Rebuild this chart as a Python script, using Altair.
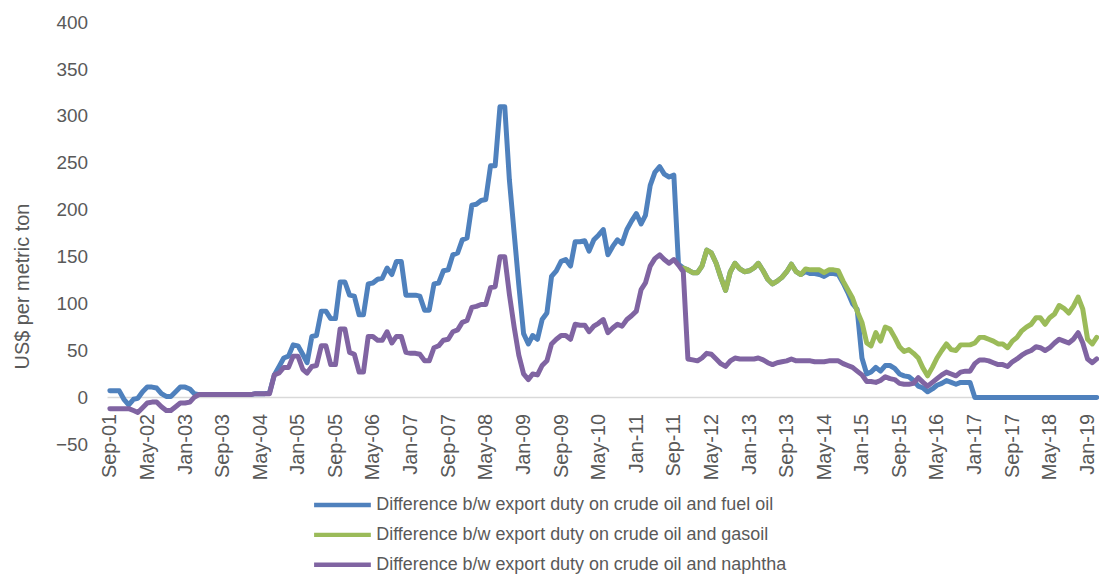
import altair as alt
import pandas as pd

FONT = "Liberation Sans, Arial, sans-serif"
GREY = "#595959"

series_names = [
    "Difference b/w export duty on crude oil and fuel oil",
    "Difference b/w export duty on crude oil and gasoil",
    "Difference b/w export duty on crude oil and naphtha",
]
colors = ["#4F81BD", "#9BBB59", "#8064A2"]

# monthly values, Sep-01 .. Mar-19
fuel_oil_start = "2001-09-01"
fuel_oil = [
    7, 7, 7, -2, -8, -2, -1, 6, 11, 11, 10, 4, 1, 1, 6, 11, 11, 9, 4, 3,
    3, 3, 3, 3, 3, 3, 3, 3, 3, 3, 3, 4, 4, 4, 5, 24, 33, 42, 44, 56,
    55, 46, 37, 65, 66, 92, 92, 84, 84, 123, 123, 109, 108, 88, 88, 121, 122, 126, 127, 138,
    131, 145, 145, 109, 109, 109, 108, 93, 93, 121, 122, 135, 136, 152, 154, 168, 170, 205, 206, 210,
    211, 247, 247, 310, 310, 232, 175, 120, 68, 57, 66, 62, 83, 90, 129, 135, 145, 147, 140, 166,
    166, 167, 156, 168, 173, 179, 152, 161, 168, 164, 179, 188, 196, 185, 194, 226, 240, 246, 238, 235,
    237, 142, 138, 136, 133, 133, 140, 157, 154, 143, 128, 114, 134, 143, 137, 134, 135, 138, 143, 135,
    126, 121, 124, 128, 134, 142, 134, 131, 134, 132, 132, 131, 129, 132, 132, 131, 122, 112, 100, 94,
    42, 25, 27, 32, 28, 34, 34, 31, 25, 23, 22, 18, 12, 10, 6, 9, 13, 15, 18, 16,
    14, 16, 16, 16, 0, 0, 0, 0, 0, 0, 0, 0, 0, 0, 0, 0, 0, 0, 0, 0,
    0, 0, 0, 0, 0, 0, 0, 0, 0, 0, 0,
]

# monthly values, Nov-11 .. Mar-19
gasoil_start = "2011-11-01"
gasoil = [
    138, 136, 133, 133, 140, 157, 154, 143, 128, 114, 134, 143, 137, 134, 135, 138, 143, 135, 126, 121,
    124, 128, 134, 142, 134, 131, 137, 136, 136, 136, 133, 136, 136, 135, 124, 115, 106, 92, 80, 58,
    55, 69, 60, 75, 73, 64, 54, 49, 51, 47, 42, 31, 23, 32, 42, 50, 57, 51, 50, 56,
    56, 56, 58, 64, 64, 62, 60, 57, 57, 53, 60, 64, 71, 75, 78, 85, 85, 78, 85, 89,
    98, 95, 90, 97, 107, 94, 62, 57, 64,
]

# monthly values, Sep-01 .. Mar-19
naphtha_start = "2001-09-01"
naphtha = [
    -12, -12, -12, -12, -12, -14, -16, -11, -6, -5, -5, -10, -14, -14, -10, -6, -6, -5, 0, 3,
    3, 3, 3, 3, 3, 3, 3, 3, 3, 3, 3, 4, 4, 4, 4, 24, 26, 32, 32, 44,
    44, 30, 26, 33, 34, 55, 55, 35, 35, 73, 73, 48, 46, 27, 27, 65, 65, 61, 61, 70,
    58, 65, 65, 48, 47, 47, 46, 39, 39, 53, 55, 61, 62, 70, 72, 80, 82, 96, 97, 99,
    99, 117, 118, 150, 150, 110, 75, 45, 25, 19, 25, 24, 34, 39, 57, 62, 66, 66, 62, 78,
    77, 77, 70, 76, 79, 83, 69, 74, 78, 76, 83, 87, 92, 115, 122, 140, 148, 152, 147, 143,
    147, 141, 134, 41, 40, 39, 42, 47, 46, 41, 36, 33, 39, 42, 41, 41, 41, 41, 42, 40,
    37, 35, 37, 38, 39, 41, 39, 39, 39, 39, 38, 38, 38, 39, 39, 39, 36, 34, 32, 28,
    24, 17, 17, 16, 18, 22, 20, 19, 15, 14, 14, 15, 21, 16, 12, 16, 20, 24, 27, 25,
    23, 27, 28, 28, 36, 40, 40, 39, 37, 35, 35, 33, 38, 41, 45, 48, 50, 54, 53, 50,
    53, 58, 62, 60, 58, 62, 69, 58, 41, 37, 41,
]

y_ticks = [-50, 0, 50, 100, 150, 200, 250, 300, 350, 400]
y_title = "US$ per metric ton"


def frame(start, values, name):
    dates = pd.date_range(start, periods=len(values), freq="MS")
    return pd.DataFrame({"date": dates.strftime("%Y-%m-%dT00:00:00"),
                         "value": values, "series": name})


df = pd.concat([
    frame(fuel_oil_start, fuel_oil, series_names[0]),
    frame(gasoil_start, gasoil, series_names[1]),
    frame(naphtha_start, naphtha, series_names[2]),
], ignore_index=True)

label_dates = pd.date_range(fuel_oil_start, periods=len(fuel_oil), freq="MS")[::8]
x_values = [alt.DateTime(year=int(d.year), month=int(d.month), date=1) for d in label_dates]

x_scale = alt.Scale(domain=[alt.DateTime(year=2001, month=8, date=17),
                            alt.DateTime(year=2019, month=3, date=16)])
y_scale = alt.Scale(domain=[-50, 400], nice=False, zero=False)

y_axis = alt.Axis(values=y_ticks, labelFont=FONT, labelFontSize=19,
                  labelColor=GREY, labelPadding=20, ticks=False,
                  domain=False, grid=False, titleFont=FONT,
                  titleFontSize=20, titleFontWeight="normal",
                  titleColor=GREY, titleX=-85, titleY=265,
                  titleAlign="center", titleBaseline="middle")

zero_rule = alt.Chart(pd.DataFrame({"v": [0]})).mark_rule(
    color="#D9D9D9", strokeWidth=1.5
).encode(y=alt.Y("v:Q", scale=y_scale, title=y_title, axis=y_axis))

lines = alt.Chart(df).mark_line(
    strokeWidth=5, strokeCap="round", strokeJoin="round"
).encode(
    x=alt.X("date:T", scale=x_scale, title=None,
            axis=alt.Axis(values=x_values, format="%b-%y", labelAngle=-90,
                          labelFont=FONT, labelFontSize=20, labelColor=GREY,
                          offset=-47, labelPadding=16, ticks=False,
                          domain=False, grid=False, labelOverlap=False,
                          labelFlush=False, labelBound=False)),
    y=alt.Y("value:Q", scale=y_scale, title=y_title, axis=y_axis),
    color=alt.Color("series:N",
                    scale=alt.Scale(domain=series_names, range=colors),
                    legend=alt.Legend(title=None, orient="none", legendX=226,
                                      legendY=475, direction="vertical",
                                      symbolType="M-3.8,0L3.8,0", symbolSize=225,
                                      symbolStrokeWidth=4.5, labelFont=FONT,
                                      labelFontSize=18, labelColor=GREY,
                                      labelOffset=24, labelLimit=0,
                                      rowPadding=11)),
)

chart = alt.layer(zero_rule, lines).properties(
    width=996, height=424,
    padding={"left": 100, "top": 13, "right": 0, "bottom": 130},
    autosize=alt.AutoSizeParams(type="none"),
).configure_view(stroke=None)

chart.save("out.html", embed_options={"renderer": "svg", "actions": False})
